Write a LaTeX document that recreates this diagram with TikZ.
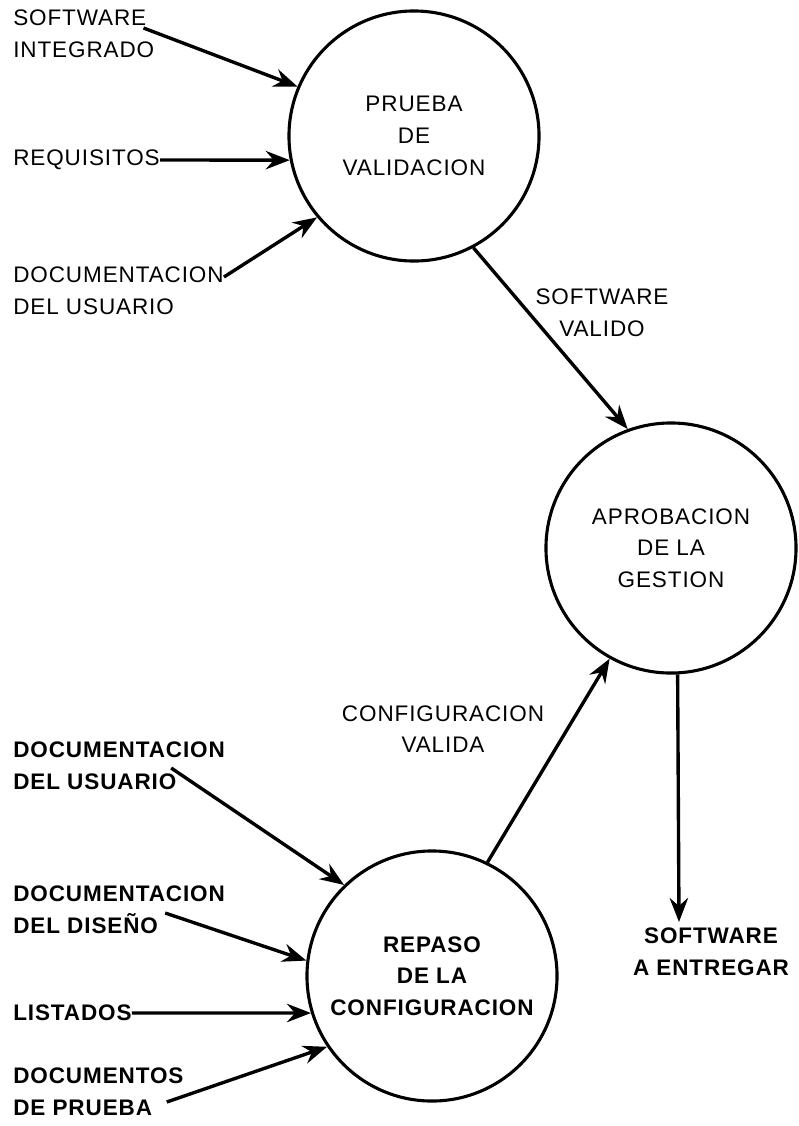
\documentclass[tikz,border=0pt]{standalone}
\usepackage{fontspec}
\setmainfont{Liberation Sans}[LetterSpace=4]
\usetikzlibrary{arrows.meta}

\begin{document}
\begin{tikzpicture}[
    x=0.025cm, y=-0.025cm,
    proc/.style={draw, circle, line width=2.2pt, minimum size=6.25cm, inner sep=0pt, align=center, font=\fontsize{16}{22.5}\selectfont},
    lbl/.style={inner sep=0pt, align=left, anchor=west, font=\fontsize{16}{22.5}\selectfont},
    lblb/.style={lbl, font=\fontsize{16}{22.5}\selectfont\bfseries},
    flowlbl/.style={inner sep=0pt, align=center, font=\fontsize{16}{22.5}\selectfont},
    arrow/.style={-{Stealth[length=6mm, width=4.6mm, inset=2mm]}, line width=2.4pt}
]
\useasboundingbox (0,0) rectangle (798,1126);

% Processes
\node[proc] (validacion) at (414,136) {PRUEBA\\DE\\VALIDACION};
\node[proc] (aprobacion) at (671,548) {APROBACION\\DE LA\\GESTION};
\node[proc, font=\fontsize{16}{22.5}\selectfont\bfseries] (repaso) at (432,976) {REPASO\\DE LA\\CONFIGURACION};

% Inputs of the validation test
\node[lbl] (swint) at (13,33.5) {SOFTWARE\\INTEGRADO};
\node[lbl] (requisitos) at (13,160) {REQUISITOS};
\node[lbl] (docusr) at (13,291) {DOCUMENTACION\\DEL USUARIO};

% Inputs of the configuration review
\node[lblb] (docusrb) at (13,766) {DOCUMENTACION\\DEL USUARIO};
\node[lblb] (docdis) at (13,910) {DOCUMENTACION\\DEL DISEÑO};
\node[lblb] (listados) at (13,1013) {LISTADOS};
\node[lblb] (docprueba) at (13,1092) {DOCUMENTOS\\DE PRUEBA};

% Flow labels
\node[flowlbl] (swvalido) at (602,312.5) {SOFTWARE\\VALIDO};
\node[flowlbl] (confvalida) at (443,729) {CONFIGURACION\\VALIDA};
\node[flowlbl, font=\fontsize{16}{22.5}\selectfont\bfseries] (entregar) at (711,951.5) {SOFTWARE\\A ENTREGAR};
\coordinate (salida) at (679,922);

% Arrows
\draw[arrow] ([shift={(-11,-5.5)}]swint.east) -- (validacion.157);
\draw[arrow] (requisitos.east) -- (validacion.191);
\draw[arrow] ([shift={(0,-14)}]docusr.east) -- (validacion.220);
\draw[arrow] (validacion.298) -- (aprobacion.110);
\draw[arrow] (repaso.64) -- (aprobacion.241);
\draw[arrow] (aprobacion.273) -- (salida);
\draw[arrow] ([shift={(-54,2)}]docusrb.east) -- (repaso.134);
\draw[arrow] ([shift={(-60,3)}]docdis.east) -- (repaso.173);
\draw[arrow] (listados.east) -- (repaso.197);
\draw[arrow] ([shift={(-17,10)}]docprueba.east) -- (repaso.214);

\end{tikzpicture}
\end{document}
